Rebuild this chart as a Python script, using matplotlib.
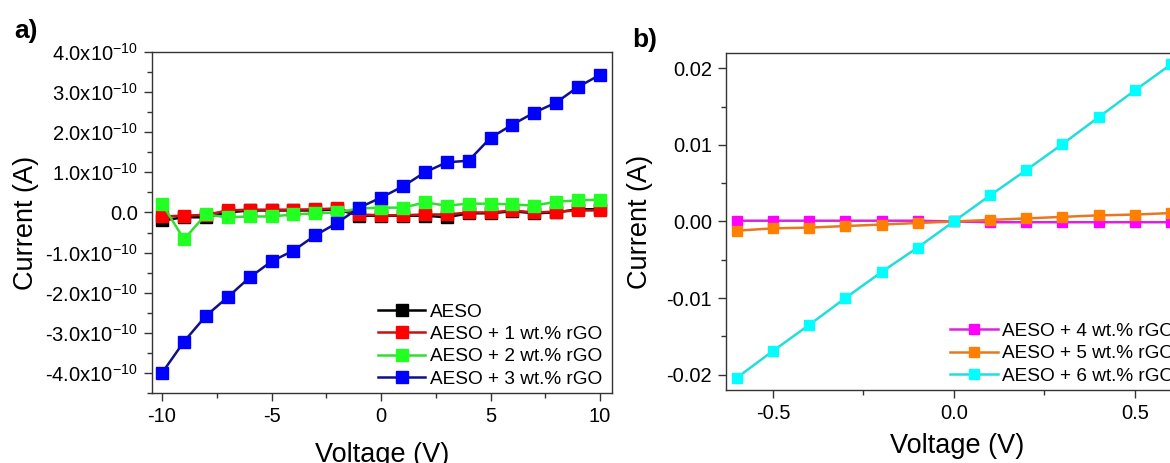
import matplotlib
matplotlib.use('Agg')
import matplotlib.pyplot as plt
import numpy as np
from matplotlib.ticker import FuncFormatter, FormatStrFormatter, MultipleLocator

plt.rcParams['font.family'] = ['Liberation Sans', 'DejaVu Sans']
plt.rcParams['mathtext.fontset'] = 'custom'
plt.rcParams['mathtext.rm'] = 'Liberation Sans'
plt.rcParams['mathtext.it'] = 'Liberation Sans:italic'
plt.rcParams['axes.unicode_minus'] = False

# panel a: voltage sweep -10..10 V, current in units of 1e-10 A
volt_a = np.arange(-10, 11, 1)
aeso = [-0.20, -0.12, -0.12, 0.00, 0.05, 0.05, 0.05, 0.05, 0.08, -0.08, -0.08,
        -0.08, -0.08, -0.12, -0.02, -0.02, 0.03, -0.02, 0.00, 0.08, 0.08]
rgo1 = [-0.10, -0.08, -0.06, 0.05, 0.07, 0.07, 0.07, 0.08, 0.10, -0.05, -0.07,
        -0.07, -0.05, -0.05, 0.00, 0.00, 0.05, 0.00, 0.02, 0.05, 0.05]
rgo2 = [0.22, -0.67, -0.05, -0.12, -0.10, -0.10, -0.05, -0.02, 0.00, 0.10, 0.12,
        0.12, 0.25, 0.17, 0.22, 0.22, 0.20, 0.17, 0.27, 0.30, 0.32]
rgo3 = [-4.00, -3.22, -2.58, -2.11, -1.62, -1.22, -0.95, -0.57, -0.26, 0.12, 0.37,
        0.65, 1.00, 1.25, 1.29, 1.86, 2.19, 2.49, 2.74, 3.13, 3.43]

# panel b: voltage sweep -0.6..0.6 V, current in A
volt_b = np.round(np.arange(-0.6, 0.61, 0.1), 1)
rgo4 = [0.0001, 0.0001, 0.0001, 0.0001, 0.0001, 0.0001, 0.0,
        -0.0001, -0.0001, -0.0001, -0.0001, -0.0001, -0.0001]
rgo5 = [-0.0012, -0.0009, -0.0008, -0.0006, -0.0004, -0.0002, 0.0,
        0.0002, 0.0004, 0.0006, 0.0008, 0.0009, 0.0011]
rgo6 = [-0.0204, -0.0169, -0.0135, -0.0100, -0.0066, -0.0034, 0.0,
        0.0034, 0.0067, 0.0101, 0.0136, 0.0171, 0.0205]

labels_a = ['AESO', 'AESO + 1 wt.% rGO', 'AESO + 2 wt.% rGO', 'AESO + 3 wt.% rGO']
labels_b = ['AESO + 4 wt.% rGO', 'AESO + 5 wt.% rGO', 'AESO + 6 wt.% rGO']

fig = plt.figure(figsize=(11.7, 4.63), dpi=100)
ax_a = fig.add_axes([0.1299, 0.1512, 0.3932, 0.7365])
ax_b = fig.add_axes([0.6205, 0.1577, 0.3957, 0.7279])

style_a = [('#000000', '#000000'), ('#cc1010', '#ff0000'),
           ('#33dd33', '#22ff22'), ('#10108a', '#0000ff')]
for ys, lab, (lc, mc) in zip([aeso, rgo1, rgo2, rgo3], labels_a, style_a):
    ax_a.plot(volt_a, np.array(ys) * 1e-10, '-', color=lc, lw=1.8, marker='s',
              ms=9, mfc=mc, mec=mc, label=lab)

style_b = [('#dd22dd', '#ff00ff'), ('#e87820', '#ff8000'), ('#22dddd', '#00ffff')]
for ys, lab, (lc, mc) in zip([rgo4, rgo5, rgo6], labels_b, style_b):
    ax_b.plot(volt_b, ys, '-', color=lc, lw=1.8, marker='s', ms=7.8,
              mfc=mc, mec=mc, label=lab)

ax_a.set_xlim(-10.46, 10.55)
ax_a.set_ylim(-4.5e-10, 4.0e-10)
ax_a.xaxis.set_major_locator(MultipleLocator(5))
ax_a.xaxis.set_minor_locator(MultipleLocator(2.5))
ax_a.yaxis.set_major_locator(MultipleLocator(1e-10))
ax_a.yaxis.set_minor_locator(MultipleLocator(0.5e-10))


def fmt_a(v, pos):
    if abs(v) < 1e-14:
        return '0.0'
    return f'{v / 1e-10:.1f}x10$^{{-10}}$'


ax_a.yaxis.set_major_formatter(FuncFormatter(fmt_a))

ax_b.set_xlim(-0.63, 0.65)
ax_b.set_ylim(-0.022, 0.022)
ax_b.xaxis.set_major_locator(MultipleLocator(0.5))
ax_b.xaxis.set_minor_locator(MultipleLocator(0.25))
ax_b.yaxis.set_major_locator(MultipleLocator(0.01))
ax_b.yaxis.set_minor_locator(MultipleLocator(0.005))
ax_b.xaxis.set_major_formatter(FormatStrFormatter('%.1f'))
ax_b.yaxis.set_major_formatter(FormatStrFormatter('%.2f'))

for ax in (ax_a, ax_b):
    for sp in ax.spines.values():
        sp.set_linewidth(1.0)
        sp.set_color('#333333')
    ax.tick_params(which='both', direction='out', labelsize=14.5, color='#333333',
                   top=False, right=False)
    ax.tick_params(which='major', length=6, width=1.0, pad=4)
    ax.tick_params(which='minor', length=3.5, width=1.0)
    ax.set_xlabel('Voltage (V)', fontsize=19.5)
    ax.set_ylabel('Current (A)', fontsize=19.5)

ax_a.xaxis.set_label_coords(0.5, -0.145)
ax_a.yaxis.set_label_coords(-0.245, 0.5)
ax_b.xaxis.set_label_coords(0.5, -0.128)
ax_b.yaxis.set_label_coords(-0.157, 0.5)

leg_kw = dict(frameon=False, fontsize=13.7, handlelength=2.5, handletextpad=0.25,
              labelspacing=0.26, borderpad=0, borderaxespad=0, numpoints=1,
              loc='lower left')
ax_a.legend(bbox_to_anchor=(0.491, 0.016), **leg_kw)
ax_b.legend(bbox_to_anchor=(0.484, 0.016), **leg_kw)

fig.text(26 / 1170, 1 - 31 / 463, 'a)', fontsize=19, fontweight='bold',
         ha='center', va='center')
fig.text(645 / 1170, 1 - 40 / 463, 'b)', fontsize=19, fontweight='bold',
         ha='center', va='center')

fig.savefig('out.png', dpi=100)
